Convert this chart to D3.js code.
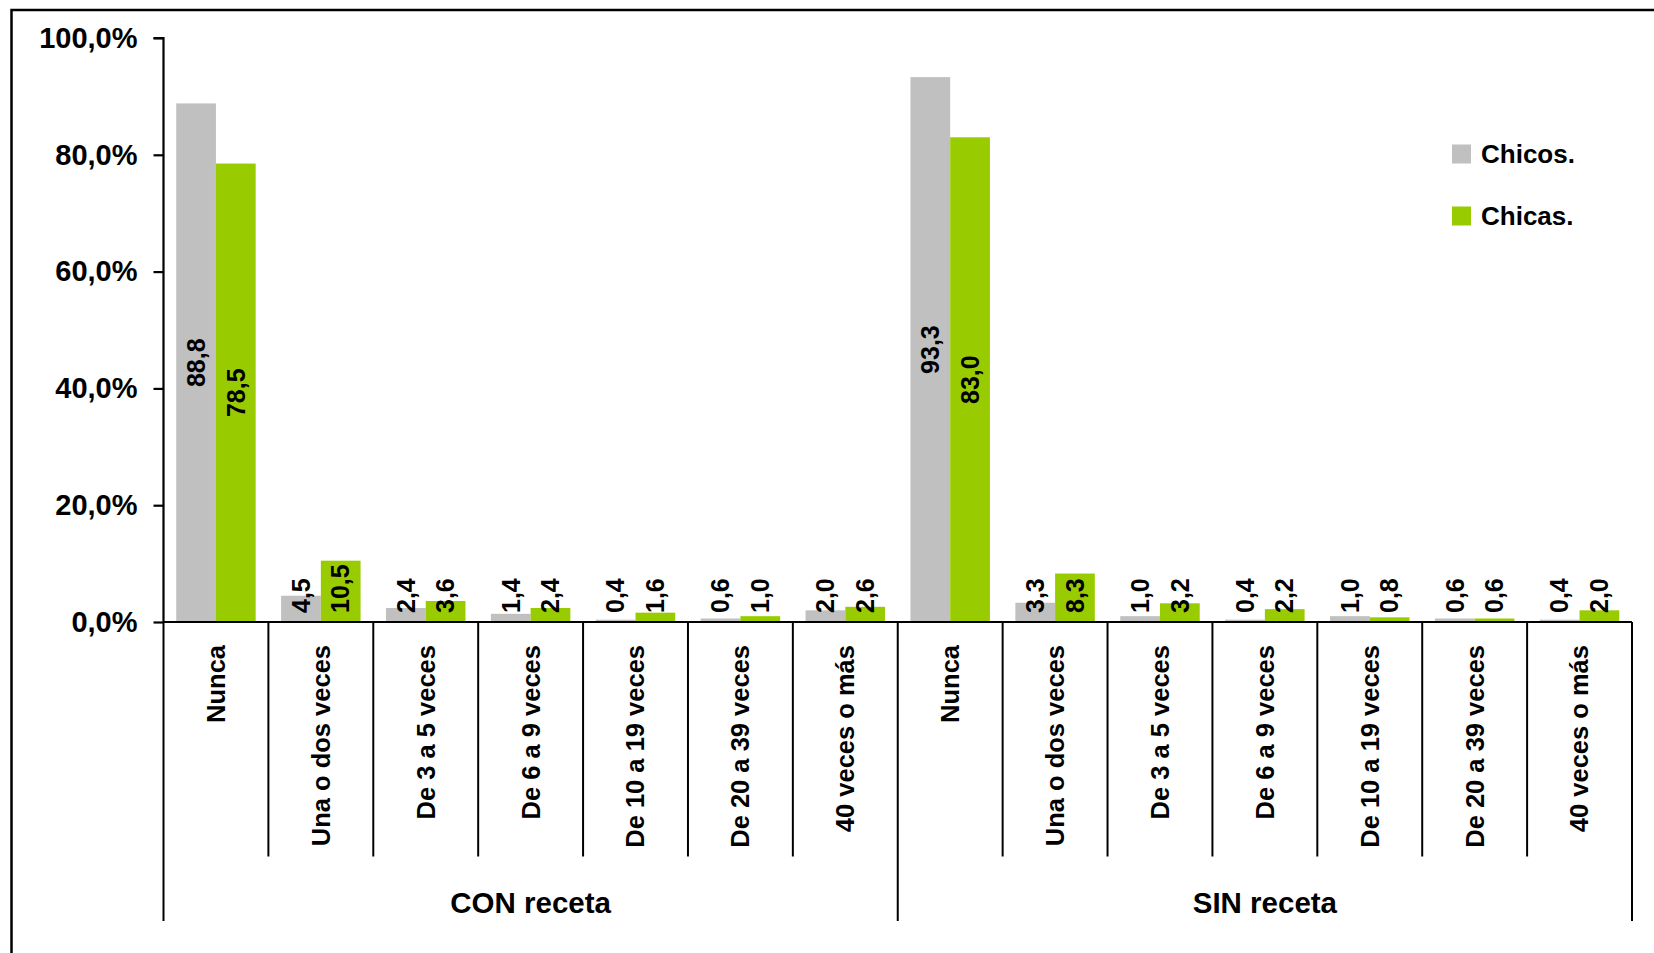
<!DOCTYPE html>
<html>
<head>
<meta charset="utf-8">
<script src="https://cdn.jsdelivr.net/npm/d3@7"></script>
<style>
  html, body { margin: 0; padding: 0; background: #fff; }
  svg { display: block; }
  text { font-family: "Liberation Sans", Arial, sans-serif; font-weight: bold; fill: #000; }
</style>
</head>
<body>
<svg id="chart" width="1654" height="953"></svg>
<script>
const groups = ["CON receta", "SIN receta"];
const categories = ["Nunca", "Una o dos veces", "De 3 a 5 veces", "De 6 a 9 veces", "De 10 a 19 veces", "De 20 a 39 veces", "40 veces o más"];
const seriesNames = ["Chicos.", "Chicas."];
const chicosCon = [88.8, 4.5, 2.4, 1.4, 0.4, 0.6, 2.0];
const chicasCon = [78.5, 10.5, 3.6, 2.4, 1.6, 1.0, 2.6];
const chicosSin = [93.3, 3.3, 1.0, 0.4, 1.0, 0.6, 0.4];
const chicasSin = [83.0, 8.3, 3.2, 2.2, 0.8, 0.6, 2.0];
const yTicks = [0, 20, 40, 60, 80, 100];
const colors = ["#C0C0C0", "#99CC00"];

const rows = [];
groups.forEach((g, gi) => {
  categories.forEach((c, ci) => {
    const a = gi === 0 ? chicosCon : chicosSin;
    const b = gi === 0 ? chicasCon : chicasSin;
    rows.push({ key: g + "|" + c, group: g, cat: c, values: [a[ci], b[ci]] });
  });
});

const svg = d3.select("#chart");
const locale = d3.formatLocale({ decimal: ",", thousands: ".", grouping: [3], currency: ["", "€"] });
const fmtTick = v => locale.format(".1f")(v) + "%";
const fmtVal = locale.format(".1f");

const x0 = 163.5, x1 = 1632, yBase = 622, yTop = 38;
const x = d3.scaleBand().domain(rows.map(r => r.key)).range([x0, x1]).paddingInner(0).paddingOuter(0);
const xs = d3.scaleBand().domain(seriesNames).range([0, x.bandwidth()]).paddingOuter(0.32).paddingInner(0);
const y = d3.scaleLinear().domain([0, 100]).range([yBase, yTop]);

// outer frame (cropped on right and bottom)
svg.append("rect").attr("x", 11.5).attr("y", 10).attr("width", 1700).attr("height", 1000)
  .attr("fill", "none").attr("stroke", "#000").attr("stroke-width", 2.5);

// bars
const catG = svg.append("g").selectAll("g").data(rows).join("g")
  .attr("transform", d => `translate(${x(d.key)},0)`);
catG.selectAll("rect").data(d => d.values.map((v, i) => ({ v, i }))).join("rect")
  .attr("x", d => xs(seriesNames[d.i]))
  .attr("width", xs.bandwidth())
  .attr("y", d => y(d.v))
  .attr("height", d => y(0) - y(d.v))
  .attr("fill", d => colors[d.i]);

// bar labels
catG.selectAll("text.val").data(d => d.values.map((v, i) => ({ v, i }))).join("text")
  .attr("class", "val")
  .attr("font-size", 25)
  .attr("text-anchor", "middle")
  .attr("dy", "0.35em")
  .text(d => fmtVal(d.v))
  .each(function (d) {
    const w = this.getComputedTextLength();
    const cx = xs(seriesNames[d.i]) + xs.bandwidth() / 2;
    const mid = (y(d.v) + y(0)) / 2;
    const cy = Math.min(mid, y(0) - 9 - w / 2);
    d3.select(this).attr("transform", `translate(${cx},${cy}) rotate(-90)`);
  });

// y axis
const yAxis = d3.axisLeft(y).tickValues(yTicks).tickFormat(fmtTick).tickSize(10).tickPadding(16);
const yg = svg.append("g").attr("transform", `translate(${x0},0)`).call(yAxis);
yg.select(".domain").attr("stroke", "#000").attr("stroke-width", 2.2).attr("d", `M-10,${yTop}H0V${yBase}`);
yg.selectAll(".tick line").attr("stroke", "#000").attr("stroke-width", 2.2);
yg.selectAll(".tick text").attr("font-size", 29).attr("font-family", "Liberation Sans, Arial, sans-serif").attr("font-weight", "bold").attr("fill", "#000");

// x axis baseline
svg.append("line").attr("x1", x0).attr("x2", x1).attr("y1", yBase).attr("y2", yBase)
  .attr("stroke", "#000").attr("stroke-width", 2.2);

// category dividers
const boundaries = rows.map(r => x(r.key)).concat([x1]);
svg.append("g").selectAll("line").data(boundaries).join("line")
  .attr("x1", d => d).attr("x2", d => d)
  .attr("y1", yBase)
  .attr("y2", (d, i) => (i % categories.length === 0) ? 921 : 856.5)
  .attr("stroke", "#000").attr("stroke-width", 2);

// category labels
svg.append("g").selectAll("text").data(rows).join("text")
  .attr("font-size", 25.5)
  .attr("text-anchor", "end")
  .attr("dy", "0.35em")
  .attr("transform", d => `translate(${x(d.key) + x.bandwidth() / 2},${yBase + 23}) rotate(-90)`)
  .text(d => d.cat);

// group labels
svg.append("g").selectAll("text").data(groups).join("text")
  .attr("font-size", 29.5)
  .attr("text-anchor", "middle")
  .attr("x", g => {
    const ks = rows.filter(r => r.group === g).map(r => x(r.key));
    return (d3.min(ks) + d3.max(ks) + x.bandwidth()) / 2;
  })
  .attr("y", 913)
  .text(g => g);

// legend
const leg = svg.append("g").selectAll("g").data(seriesNames).join("g")
  .attr("transform", (d, i) => `translate(1452,${154 + i * 62})`);
leg.append("rect").attr("x", 0).attr("y", -9.5).attr("width", 19).attr("height", 19)
  .attr("fill", (d, i) => colors[i]);
leg.append("text").attr("x", 29).attr("dy", "0.35em").attr("font-size", 26).text(d => d);
</script>
</body>
</html>
